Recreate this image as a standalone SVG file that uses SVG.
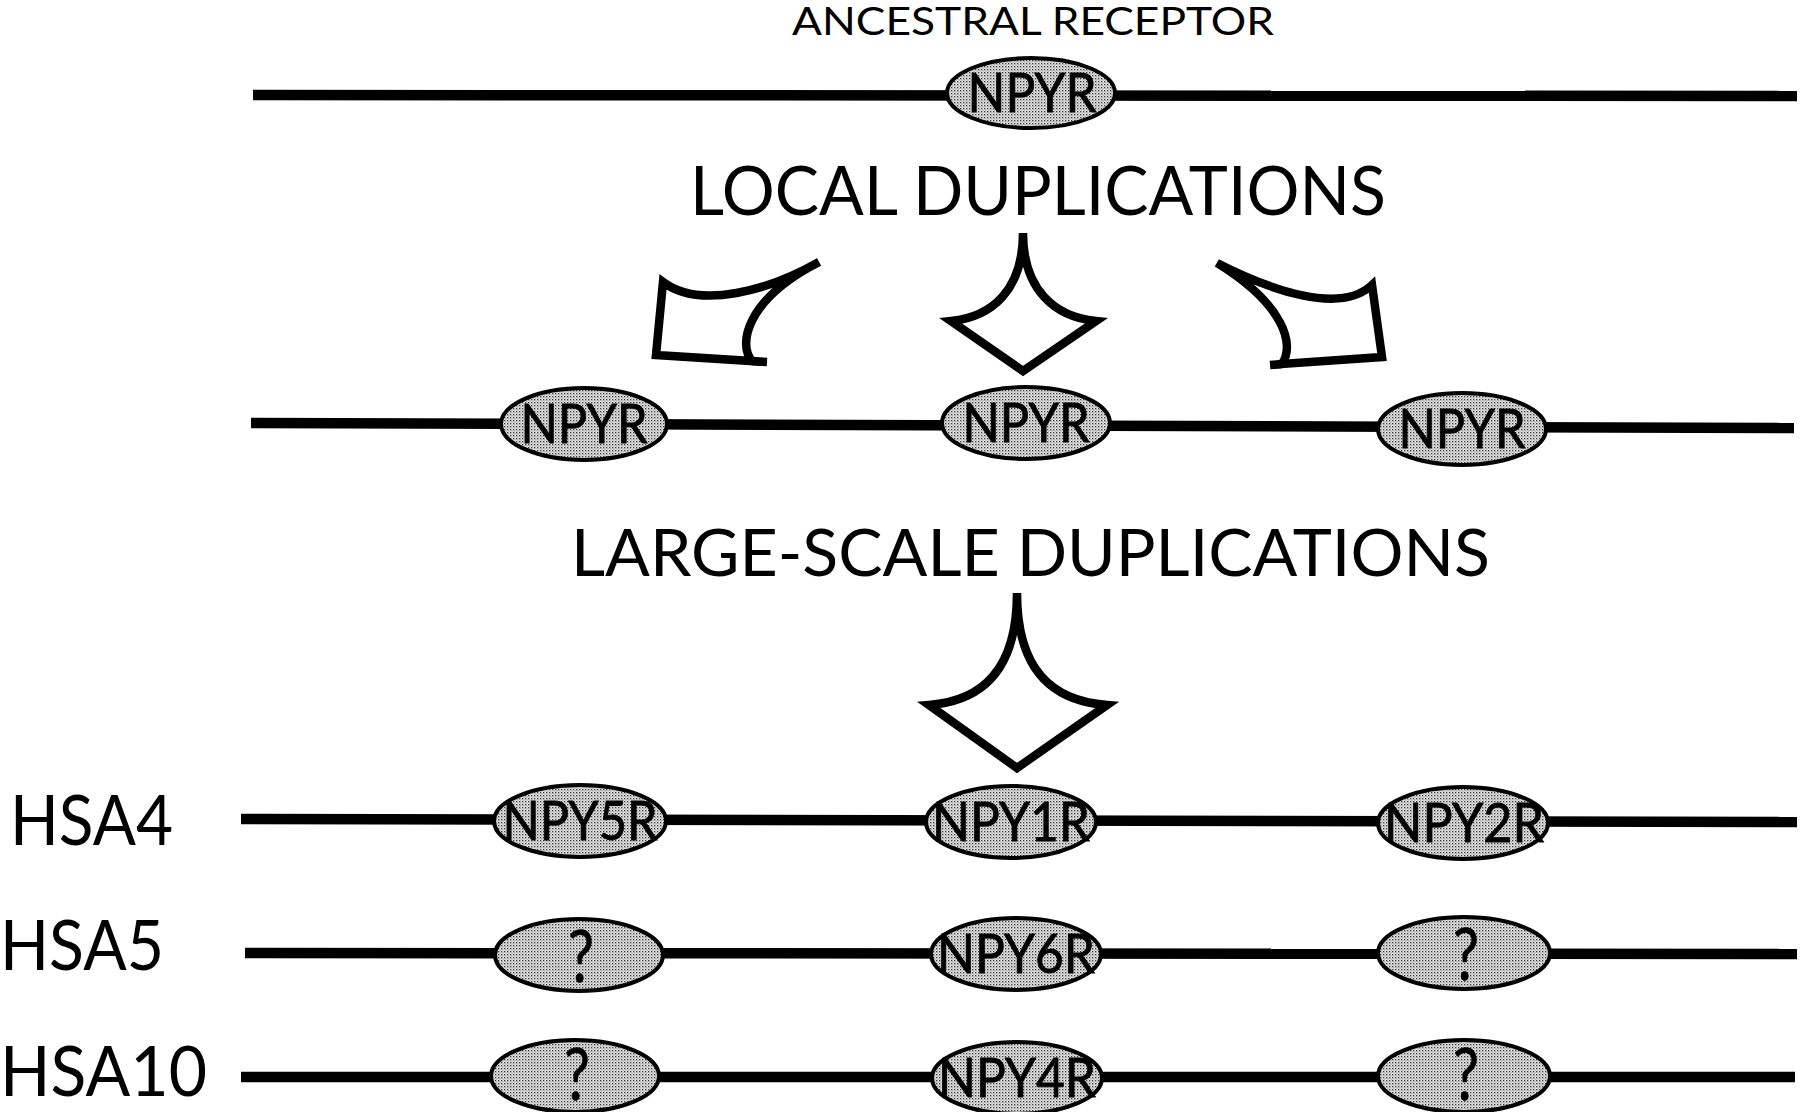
<svg xmlns="http://www.w3.org/2000/svg" width="1800" height="1112" viewBox="0 0 1800 1112">
  <defs>
    <pattern id="stipple" width="3" height="3" patternUnits="userSpaceOnUse">
      <rect width="3" height="3" fill="#e4e4e4"/>
      <rect x="0" y="0" width="1.3" height="1.3" fill="#3a3a3a"/>
      <rect x="1.5" y="1.5" width="1" height="1" fill="#777"/>
    </pattern>
  </defs>
  <style>
    .chrom { stroke: #000; stroke-width: 10.5; fill: none; stroke-linecap: butt; }
    .gene { fill: url(#stipple); stroke: #000; stroke-width: 4; }
    .glabel { font-family: "Lato", "Liberation Sans", sans-serif; font-size: 55px; fill: #000; text-anchor: middle; stroke: #000; stroke-width: 0.8; }
    .qmark { font-family: "Lato", "Liberation Sans", sans-serif; font-size: 72px; fill: #000; text-anchor: middle; stroke: #000; stroke-width: 0.6; }
    .title { font-family: "Lato", "Liberation Sans", sans-serif; fill: #000; }
    .arrow { fill: #fff; stroke: #000; stroke-width: 8.5; stroke-linejoin: miter; stroke-miterlimit: 4; }
    .tick { fill: none; stroke: #000; stroke-width: 8.5; }
  </style>
  <rect width="1800" height="1112" fill="#fff"/>

  <!-- chromosome lines -->
  <g id="connectors">
    <line class="chrom" x1="253" y1="95" x2="1797" y2="96"/>
    <line class="chrom" x1="251" y1="423" x2="1794" y2="428"/>
    <line class="chrom" x1="241" y1="819" x2="1797" y2="822"/>
    <line class="chrom" x1="245" y1="953" x2="1797" y2="954"/>
    <line class="chrom" x1="241" y1="1077" x2="1795" y2="1077"/>
  </g>

  <!-- duplication arrows -->
  <g id="arrows">
    <g id="arrow-local-left">
      <path class="arrow" d="M819,262 C770,290 700,310 663,282 L656,355 L752,361 C738,345 745,300 819,262 Z"/>
      <path class="tick" d="M752,361 L767,362"/>
    </g>
    <g id="arrow-local-center">
      <path class="arrow" d="M1023,233 C1023,290 992,317 951,321 L1023,371 L1096,321 C1055,317 1023,290 1023,233 Z"/>
    </g>
    <g id="arrow-local-right">
      <path class="arrow" d="M1217,263 C1270,290 1340,315 1372,285 L1382,357 L1282,364 C1295,345 1285,305 1217,263 Z"/>
      <path class="tick" d="M1282,364 L1270,365"/>
    </g>
    <g id="arrow-large">
      <path class="arrow" d="M1017,593 C1017,670 982,701 929,705 L1017,768 L1107,705 C1052,701 1017,670 1017,593 Z"/>
    </g>
  </g>

  <!-- titles -->
  <g id="title-ancestral">
    <text class="title" x="792" y="35" font-size="39" textLength="482" lengthAdjust="spacingAndGlyphs">ANCESTRAL RECEPTOR</text>
  </g>
  <g id="title-local">
    <text class="title" x="690" y="215" font-size="67" textLength="696" lengthAdjust="spacingAndGlyphs">LOCAL DUPLICATIONS</text>
  </g>
  <g id="title-large">
    <text class="title" x="571" y="576" font-size="66" textLength="919" lengthAdjust="spacingAndGlyphs">LARGE-SCALE DUPLICATIONS</text>
  </g>

  <!-- chromosome labels -->
  <g id="label-hsa4">
    <text class="title" x="10" y="845" font-size="69" textLength="163" lengthAdjust="spacingAndGlyphs">HSA4</text>
  </g>
  <g id="label-hsa5">
    <text class="title" x="0" y="970" font-size="69" textLength="164" lengthAdjust="spacingAndGlyphs">HSA5</text>
  </g>
  <g id="label-hsa10">
    <text class="title" x="0" y="1096" font-size="69" textLength="207" lengthAdjust="spacingAndGlyphs">HSA10</text>
  </g>

  <!-- ancestral -->
  <g id="node-ancestral">
    <ellipse class="gene" cx="1031" cy="93" rx="84" ry="35"/>
    <text class="glabel" x="1032" y="112" font-size="56" textLength="129" lengthAdjust="spacingAndGlyphs">NPYR</text>
  </g>

  <!-- after local duplications -->
  <g id="node-npyr-a">
    <ellipse class="gene" cx="584" cy="424" rx="83" ry="36"/>
    <text class="glabel" x="584" y="443" textLength="127" lengthAdjust="spacingAndGlyphs">NPYR</text>
  </g>
  <g id="node-npyr-b">
    <ellipse class="gene" cx="1026" cy="423" rx="84" ry="36"/>
    <text class="glabel" x="1026" y="442" textLength="127" lengthAdjust="spacingAndGlyphs">NPYR</text>
  </g>
  <g id="node-npyr-c">
    <ellipse class="gene" cx="1462" cy="429" rx="84" ry="36"/>
    <text class="glabel" x="1462" y="448" textLength="127" lengthAdjust="spacingAndGlyphs">NPYR</text>
  </g>

  <!-- HSA4 -->
  <g id="node-npy5r">
    <ellipse class="gene" cx="580" cy="821" rx="86" ry="36"/>
    <text class="glabel" x="580" y="840" textLength="155" lengthAdjust="spacingAndGlyphs">NPY5R</text>
  </g>
  <g id="node-npy1r">
    <ellipse class="gene" cx="1011" cy="822" rx="85" ry="36"/>
    <text class="glabel" x="1011" y="841" textLength="158" lengthAdjust="spacingAndGlyphs">NPY1R</text>
  </g>
  <g id="node-npy2r">
    <ellipse class="gene" cx="1463" cy="823" rx="85" ry="36"/>
    <text class="glabel" x="1464" y="842" textLength="160" lengthAdjust="spacingAndGlyphs">NPY2R</text>
  </g>

  <!-- HSA5 -->
  <g id="node-hsa5-q1">
    <ellipse class="gene" cx="579" cy="955" rx="84" ry="36"/>
    <text class="qmark" x="581" y="982" textLength="26" lengthAdjust="spacingAndGlyphs">?</text>
  </g>
  <g id="node-npy6r">
    <ellipse class="gene" cx="1016" cy="954" rx="85" ry="36"/>
    <text class="glabel" x="1016" y="973" textLength="158" lengthAdjust="spacingAndGlyphs">NPY6R</text>
  </g>
  <g id="node-hsa5-q2">
    <ellipse class="gene" cx="1464" cy="953" rx="86" ry="36"/>
    <text class="qmark" x="1466" y="980" textLength="26" lengthAdjust="spacingAndGlyphs">?</text>
  </g>

  <!-- HSA10 -->
  <g id="node-hsa10-q1">
    <ellipse class="gene" cx="575" cy="1076" rx="84" ry="36"/>
    <text class="qmark" x="577" y="1100" textLength="26" lengthAdjust="spacingAndGlyphs">?</text>
  </g>
  <g id="node-npy4r">
    <ellipse class="gene" cx="1017" cy="1078" rx="85" ry="36"/>
    <text class="glabel" x="1017" y="1097" textLength="158" lengthAdjust="spacingAndGlyphs">NPY4R</text>
  </g>
  <g id="node-hsa10-q2">
    <ellipse class="gene" cx="1464" cy="1076" rx="86" ry="36"/>
    <text class="qmark" x="1466" y="1100" textLength="26" lengthAdjust="spacingAndGlyphs">?</text>
  </g>
</svg>
